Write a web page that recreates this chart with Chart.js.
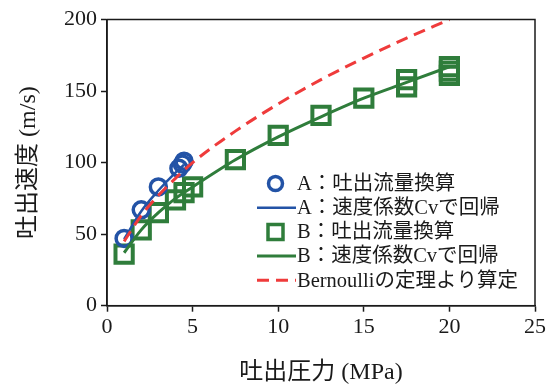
<!DOCTYPE html>
<html>
<head>
<meta charset="utf-8">
<script src="https://cdn.jsdelivr.net/npm/chart.js@4.4.0/dist/chart.umd.min.js"></script>
<style>
  html, body { margin: 0; padding: 0; background: #fff; }
  #wrap { width: 553px; height: 388px; }
</style>
</head>
<body>
<div id="wrap"><canvas id="chart"></canvas></div>
<script>
// measured points (A / B nozzles)
var pressA = [1, 2, 3, 4.2, 4.4, 4.5];
var speedA = [47, 67, 83, 96, 99, 101];
var pressB = [1, 2, 3, 4, 4.5, 5, 7.5, 10, 12.5, 15, 17.5, 17.5, 20, 20, 20];
var speedB = [36, 53, 65, 74, 79, 83, 102, 119, 133, 145, 158, 153, 167, 164, 161];

// regression curves and Bernoulli curve
var fitPressA = [1, 2, 3, 4, 4.5];
var fitSpeedA = [46.5, 66, 80.5, 93, 98.5];
var fitPressB = [1, 2, 3, 4, 5, 7.5, 10, 12.5, 15, 17.5, 20];
var fitSpeedB = [37, 53, 65, 75, 83, 102, 118, 132, 145, 156, 167];
var bernPress = [1, 2, 3, 4, 5, 7.5, 10, 12.5, 15, 17.5, 20];
var bernSpeed = [45, 63, 77, 89, 100, 122, 141, 158, 173, 187, 200];

var seriesNames = [
    "A\uFF1A吐出流量換算",
    "A\uFF1A速度係数Cvで回帰",
    "B\uFF1A吐出流量換算",
    "B\uFF1A速度係数Cvで回帰",
    "Bernoulliの定理より算定"
];
var xTicks = [0, 5, 10, 15, 20, 25];
var yTicks = [0, 50, 100, 150, 200];
var xTitle = "吐出圧力 (MPa)";
var yTitle = "吐出速度 (m/s)";

var BLUE = "#2353a6", GREEN = "#2f7d3b", RED = "#ef3b3b", INK = "#1a1a1a";
var FONT = '"Liberation Serif", "Noto Sans CJK JP", serif';

function toXY(xs, ys) {
    return xs.map(function(x, i){ return {x: x, y: ys[i]}; });
}

// frame around the plot + legend inside the plot
var frameAndLegend = {
    id: 'frameAndLegend',
    afterDatasetsDraw: function(chart) {
        var ctx = chart.ctx, a = chart.chartArea;
        ctx.save();
        ctx.strokeStyle = INK;
        ctx.lineWidth = 1.5;
        ctx.strokeRect(a.left, a.top, a.right - a.left, a.bottom - a.top);
        ctx.restore();
    },
    afterDraw: function(chart) {
        var ctx = chart.ctx;
        var symX = 275.5, lineL = 257, lineR = 296, textX = 297;
        var y0 = 183.5, rowH = 24.2;
        chart.data.datasets.forEach(function(ds, i) {
            var y = y0 + i * rowH;
            ctx.save();
            ctx.strokeStyle = ds.borderColor;
            if (ds.showLine === false) {
                ctx.lineWidth = 3.5;
                ctx.beginPath();
                if (ds.pointStyle === 'rect') {
                    ctx.rect(symX - 7.5, y - 7.5, 15, 15);
                } else {
                    ctx.arc(symX, y, 7, 0, Math.PI * 2);
                }
                ctx.stroke();
            } else {
                ctx.lineWidth = ds.borderWidth;
                ctx.setLineDash(ds.borderDash || []);
                ctx.beginPath();
                ctx.moveTo(lineL, y);
                ctx.lineTo(lineR, y);
                ctx.stroke();
            }
            ctx.restore();
            ctx.save();
            ctx.fillStyle = INK;
            ctx.font = '20.5px ' + FONT;
            ctx.textBaseline = 'middle';
            ctx.textAlign = 'left';
            ctx.fillText(ds.label, textX, y + 1);
            ctx.restore();
        });
    }
};

var ctx = document.getElementById("chart").getContext('2d');
var chart = new Chart(ctx, {
    type: 'scatter',
    data: {
        datasets: [{
            label: seriesNames[0],
            data: toXY(pressA, speedA),
            showLine: false,
            pointStyle: 'circle',
            pointRadius: 8,
            pointBorderWidth: 3.5,
            borderColor: BLUE,
            pointBorderColor: BLUE,
            pointBackgroundColor: 'rgba(0,0,0,0)',
            order: 3
        }, {
            label: seriesNames[1],
            data: toXY(fitPressA, fitSpeedA),
            showLine: true,
            borderColor: BLUE,
            borderWidth: 2.5,
            pointRadius: 0,
            cubicInterpolationMode: 'monotone',
            order: 2
        }, {
            label: seriesNames[2],
            data: toXY(pressB, speedB),
            showLine: false,
            pointStyle: 'rect',
            pointRadius: 12.2,
            pointBorderWidth: 4,
            borderColor: GREEN,
            pointBorderColor: GREEN,
            pointBackgroundColor: 'rgba(0,0,0,0)',
            order: 4
        }, {
            label: seriesNames[3],
            data: toXY(fitPressB, fitSpeedB),
            showLine: true,
            borderColor: GREEN,
            borderWidth: 3,
            pointRadius: 0,
            cubicInterpolationMode: 'monotone',
            order: 1
        }, {
            label: seriesNames[4],
            data: toXY(bernPress, bernSpeed),
            showLine: true,
            borderColor: RED,
            borderWidth: 3,
            borderDash: [12, 7],
            pointRadius: 0,
            cubicInterpolationMode: 'monotone',
            order: 0
        }]
    },
    options: {
        responsive: true,
        maintainAspectRatio: false,
        animation: false,
        layout: { padding: { top: 19.5, right: 18, left: 0, bottom: 0 } },
        plugins: {
            legend: { display: false },
            tooltip: { enabled: false }
        },
        scales: {
            x: {
                type: 'linear',
                min: 0, max: 25,
                afterBuildTicks: function(s){ s.ticks = xTicks.map(function(v){ return {value: v}; }); },
                afterFit: function(s){ s.height = 82.3; },
                grid: { drawOnChartArea: false, drawTicks: true, tickLength: 6, tickWidth: 1.5, tickColor: INK },
                border: { display: true, color: INK, width: 1.5 },
                ticks: { color: INK, padding: 2, maxRotation: 0, font: { family: FONT, size: 22 } },
                title: { display: true, text: xTitle, color: INK, padding: { top: 0, bottom: 1 }, font: { family: FONT, size: 24 } }
            },
            y: {
                type: 'linear',
                min: 0, max: 200,
                afterBuildTicks: function(s){ s.ticks = yTicks.map(function(v){ return {value: v}; }); },
                afterFit: function(s){ s.width = 107; },
                grid: { drawOnChartArea: false, drawTicks: true, tickLength: 6, tickWidth: 1.5, tickColor: INK },
                border: { display: true, color: INK, width: 1.5 },
                ticks: { color: INK, padding: 4, font: { family: FONT, size: 22 } },
                title: { display: true, text: yTitle, color: INK, padding: { top: 14, bottom: 0 }, font: { family: FONT, size: 24 } }
            }
        }
    },
    plugins: [frameAndLegend]
});
</script>
</body>
</html>
